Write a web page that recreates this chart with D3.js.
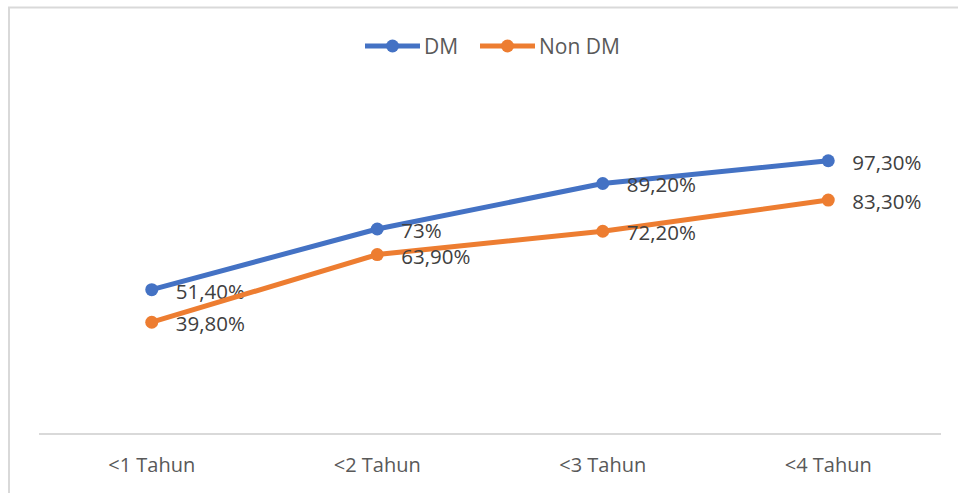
<!DOCTYPE html>
<meta charset="utf-8">
<style>
body {
    margin: 0px;
    background: white;
    font-family: "Open Sans", sans-serif;
}
.cat-label {
  font-size: 20px;
  fill: #595959;
}
.val-label {
  font-size: 20.5px;
  fill: #404040;
}
.legend-text {
  font-size: 21px;
  fill: #595959;
}
</style>
<body>
<script src="https://d3js.org/d3.v7.min.js"></script>
<script>
var width = 958,
    height = 493

// data
var categories = ["<1 Tahun", "<2 Tahun", "<3 Tahun", "<4 Tahun"]
var seriesNames = ["DM", "Non DM"]
var dmValues = [51.4, 73, 89.2, 97.3]
var nonDmValues = [39.8, 63.9, 72.2, 83.3]
var dmLabels = ["51,40%", "73%", "89,20%", "97,30%"]
var nonDmLabels = ["39,80%", "63,90%", "72,20%", "83,30%"]
var colors = ["#4472C4", "#ED7D31"]

var series = [
    { name: seriesNames[0], values: dmValues, labels: dmLabels, color: colors[0] },
    { name: seriesNames[1], values: nonDmValues, labels: nonDmLabels, color: colors[1] }
]

var svg = d3.select("body").append("svg")
    .attr("width", width)
    .attr("height", height)

// chart border
svg.append("rect")
    .attr("x", 9)
    .attr("y", 7.5)
    .attr("width", 1000)
    .attr("height", 600)
    .attr("fill", "none")
    .attr("stroke", "#d9d9d9")
    .attr("stroke-width", 2)

var x = d3.scaleBand()
    .domain(categories)
    .range([39, 941])

var y = d3.scaleLinear()
    .domain([0, 120])
    .range([434, 97])

// x axis line
svg.append("line")
    .attr("x1", 39)
    .attr("x2", 941)
    .attr("y1", y(0))
    .attr("y2", y(0))
    .attr("stroke", "#d9d9d9")
    .attr("stroke-width", 2)

svg.selectAll(".cat-label")
    .data(categories)
    .enter()
    .append("text")
    .attr("class", "cat-label")
    .attr("x", function(d) { return x(d) + x.bandwidth() / 2 })
    .attr("y", 472)
    .attr("text-anchor", "middle")
    .text(function(d) { return d })

var line = d3.line()
    .x(function(d, i) { return x(categories[i]) + x.bandwidth() / 2 })
    .y(function(d) { return y(d) })

var g = svg.selectAll(".series")
    .data(series)
    .enter()
    .append("g")
    .attr("class", "series")

g.append("path")
    .attr("d", function(d) { return line(d.values) })
    .attr("fill", "none")
    .attr("stroke", function(d) { return d.color })
    .attr("stroke-width", 5)
    .attr("stroke-linejoin", "round")

g.each(function(s) {
    var sel = d3.select(this)
    sel.selectAll("circle")
        .data(s.values)
        .enter()
        .append("circle")
        .attr("cx", function(d, i) { return x(categories[i]) + x.bandwidth() / 2 })
        .attr("cy", function(d) { return y(d) })
        .attr("r", 6.5)
        .attr("fill", s.color)

    sel.selectAll(".val-label")
        .data(s.values)
        .enter()
        .append("text")
        .attr("class", "val-label")
        .attr("x", function(d, i) { return x(categories[i]) + x.bandwidth() / 2 + 24 })
        .attr("y", function(d) { return y(d) + 9 })
        .text(function(d, i) { return s.labels[i] })
})

// legend
var legend = svg.append("g")
var legendX = [365, 480]
series.forEach(function(s, i) {
    var lg = legend.append("g").attr("transform", "translate(" + legendX[i] + ",46)")
    lg.append("line")
        .attr("x1", 0).attr("x2", 55)
        .attr("stroke", s.color)
        .attr("stroke-width", 5)
    lg.append("circle")
        .attr("cx", 27.5)
        .attr("r", 6.5)
        .attr("fill", s.color)
    lg.append("text")
        .attr("class", "legend-text")
        .attr("x", 59)
        .attr("y", 8)
        .text(s.name)
})
</script>
